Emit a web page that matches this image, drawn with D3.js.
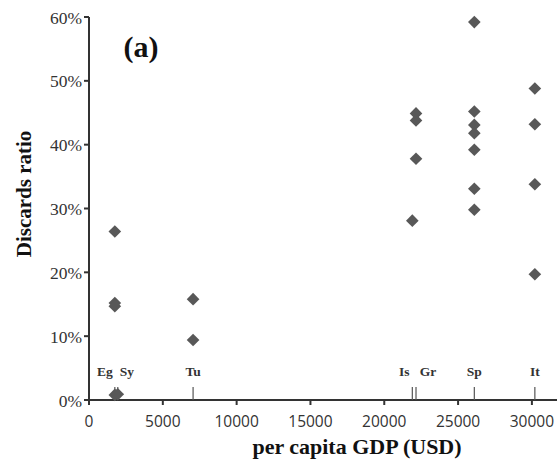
<!DOCTYPE html>
<html lang="en">
<head>
    <meta charset="UTF-8">
    <title>Discards ratio vs per capita GDP</title>
    <script src="https://d3js.org/d3.v7.min.js"></script>
    <style>
        body { margin: 0; background: #fff; }
        .ytick { font-family: "Liberation Serif", serif; font-size: 17.5px; fill: #333; }
        .xtick { font-family: "Open Sans", "Liberation Sans", sans-serif; font-size: 15.5px; fill: #333; }
        .title { font-family: "Liberation Serif", serif; font-weight: bold; fill: #111; }
        .country { font-family: "Liberation Serif", serif; font-weight: bold; font-size: 13.5px; fill: #333; }
    </style>
</head>
<body>
<div id="chart"></div>
<script>
    // countries, their per capita GDP and the discards ratios observed
    const countries = ["Eg", "Sy", "Tu", "Is", "Gr", "Sp", "It"];
    const gdp = [1750, 1950, 7050, 21900, 22150, 26100, 30200];
    const ratios = [
        [0.264, 0.152, 0.147, 0.008],
        [0.009],
        [0.158, 0.094],
        [0.281],
        [0.449, 0.438, 0.378],
        [0.592, 0.452, 0.431, 0.418, 0.392, 0.331, 0.298],
        [0.488, 0.432, 0.338, 0.197]
    ];
    const xTicks = [0, 5000, 10000, 15000, 20000, 25000, 30000];
    const yTicks = [0, 0.1, 0.2, 0.3, 0.4, 0.5, 0.6];

    // label nudges so the close pairs don't overlap
    const labelShift = { Eg: -10, Sy: 9, Is: -8, Gr: 12 };

    const width = 557, height = 461;
    const svg = d3.select("#chart").append("svg")
        .attr("width", width)
        .attr("height", height);

    const x = d3.scaleLinear().domain([0, 31700]).range([89, 557]);
    const y = d3.scaleLinear().domain([0, 0.6]).range([400, 17]);

    const axisColor = "#333";

    // y axis
    svg.append("line")
        .attr("x1", x(0)).attr("x2", x(0))
        .attr("y1", y(0) + 1).attr("y2", y(0.6))
        .attr("stroke", axisColor).attr("stroke-width", 2);
    svg.selectAll(".yt").data(yTicks).enter().append("line")
        .attr("x1", x(0) - 5).attr("x2", x(0))
        .attr("y1", d => y(d)).attr("y2", d => y(d))
        .attr("stroke", axisColor).attr("stroke-width", 2);
    svg.selectAll(".ytick").data(yTicks).enter().append("text")
        .attr("class", "ytick")
        .attr("x", x(0) - 7)
        .attr("y", d => y(d) + 6.5)
        .attr("text-anchor", "end")
        .text(d => d3.format(".0%")(d));

    // x axis
    svg.append("line")
        .attr("x1", x(0) - 1).attr("x2", width)
        .attr("y1", y(0)).attr("y2", y(0))
        .attr("stroke", axisColor).attr("stroke-width", 2);
    svg.selectAll(".xt").data(xTicks).enter().append("line")
        .attr("x1", d => x(d)).attr("x2", d => x(d))
        .attr("y1", y(0)).attr("y2", y(0) + 5)
        .attr("stroke", axisColor).attr("stroke-width", 2);
    svg.selectAll(".xtick").data(xTicks).enter().append("text")
        .attr("class", "xtick")
        .attr("x", d => x(d))
        .attr("y", y(0) + 27)
        .attr("text-anchor", "middle")
        .text(d => d);

    // country markers on the x axis
    countries.forEach((c, i) => {
        svg.append("line")
            .attr("x1", x(gdp[i])).attr("x2", x(gdp[i]))
            .attr("y1", y(0)).attr("y2", y(0) - 13)
            .attr("stroke", "#555").attr("stroke-width", 1.2);
        svg.append("text")
            .attr("class", "country")
            .attr("x", x(gdp[i]) + (labelShift[c] || 0))
            .attr("y", y(0) - 24)
            .attr("text-anchor", "middle")
            .text(c);
    });

    // points
    const points = [];
    ratios.forEach((arr, i) => arr.forEach(v => points.push({ g: gdp[i], v: v })));
    const diamond = d3.symbol().type(d3.symbolSquare).size(80);
    svg.selectAll(".pt").data(points).enter().append("path")
        .attr("d", diamond)
        .attr("transform", d => `translate(${x(d.g)},${y(d.v)}) rotate(45)`)
        .attr("fill", "#585858");

    // titles
    svg.append("text")
        .attr("class", "title")
        .attr("x", 141).attr("y", 57)
        .attr("text-anchor", "middle")
        .style("font-size", "30px")
        .text("(a)");
    svg.append("text")
        .attr("class", "title")
        .attr("x", 357).attr("y", 454)
        .attr("text-anchor", "middle")
        .style("font-size", "22px")
        .text("per capita GDP (USD)");
    svg.append("text")
        .attr("class", "title")
        .attr("transform", "translate(31,194) rotate(-90)")
        .attr("text-anchor", "middle")
        .style("font-size", "21px")
        .text("Discards ratio");
</script>
</body>
</html>
